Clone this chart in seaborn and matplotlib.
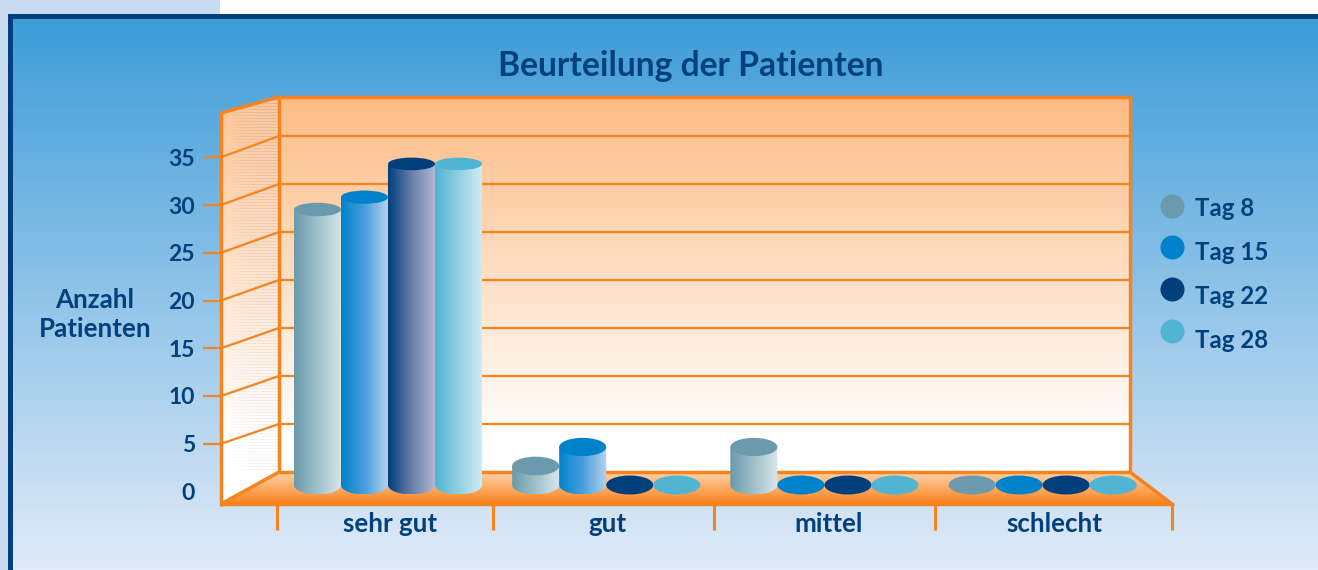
#!/usr/bin/env python3
import matplotlib
matplotlib.use('Agg')
import matplotlib.pyplot as plt
import numpy as np
import pandas as pd
import seaborn as sns
from matplotlib.colors import LinearSegmentedColormap
from matplotlib.patches import Ellipse, Polygon, Rectangle
from matplotlib.path import Path

ratings = ['sehr gut', 'gut', 'mittel', 'schlecht']
tags = ['Tag 8', 'Tag 15', 'Tag 22', 'Tag 28']
tag_8 = [29, 2, 4, 0]
tag_15 = [30.3, 4, 0, 0]
tag_22 = [33.8, 0, 0, 0]
tag_28 = [33.8, 0, 0, 0]
y_ticks = [0, 5, 10, 15, 20, 25, 30, 35]

top_colors = ['#6a9aab', '#0082cb', '#003f7c', '#50b4d3']
side_colors = [
    ['#6a9aab', '#d8e7ea'],
    ['#0082cb', '#4a9fdd', '#b8d2ef'],
    ['#003f7c', '#6a7fa8', '#b2bad5'],
    ['#50b4d3', '#d2ecf1'],
]

NAVY = '#00407c'
ORANGE = '#f7831f'
FONT = 'Lato'

sns.set_theme(style='white', font=FONT)

df = pd.DataFrame({
    'rating': ratings * 4,
    'tag': np.repeat(tags, 4),
    'patients': tag_8 + tag_15 + tag_22 + tag_28,
})

fig = plt.figure(figsize=(13.18, 5.70), dpi=100)
bg = fig.add_axes([0, 0, 1, 1])
bg.axis('off')


def vgrad(x0, x1, y0, y1, c0, c1, clip=None):
    cmap = LinearSegmentedColormap.from_list('g', [c0, c1])
    im = bg.imshow(np.linspace(0, 1, 256)[:, None], cmap=cmap, aspect='auto',
                   extent=(x0, x1, y1, y0), interpolation='bilinear', zorder=1)
    if clip is not None:
        im.set_clip_path(Polygon(clip, transform=bg.transData))
    return im


# page and panel
bg.add_patch(Rectangle((0, 0), 1318, 570, color='white', lw=0, zorder=1))
bg.add_patch(Rectangle((0, 0), 220, 14, color='#c8dbf0', lw=0, zorder=1))
bg.add_patch(Rectangle((0, 0), 8, 570, color='#c8dbf0', lw=0, zorder=1))
bg.add_patch(Rectangle((8, 14), 1310, 556, color=NAVY, lw=0, zorder=1))
vgrad(13, 1318, 19, 570, '#3d9cd8', '#e2ebf8')

# walls and floor
left_wall = [(221, 113), (279, 97), (279, 472), (221, 504)]
floor = [(221, 504), (279, 472), (1130, 472), (1172, 504)]
vgrad(279, 1130, 97, 438, '#fdbc85', '#ffffff')
bg.add_patch(Rectangle((279, 438), 851, 34, color='white', lw=0, zorder=1))
vgrad(221, 279, 97, 438, '#fdc596', '#ffffff', clip=left_wall)
bg.add_patch(Polygon([(221, 438), (279, 438), (279, 472), (221, 504)], color='white', lw=0, zorder=1))
vgrad(221, 1172, 472, 504, '#fdd3aa', '#f9821c', clip=floor)

# fine stripes on the left wall
rows = np.arange(97, 470, 3)
strength = np.array([0.0, 0.2, 0.32, 0.32])[:, None].T
stripe_cmap = LinearSegmentedColormap.from_list('s', [(0.6, 0.6, 0.65, 0), (0.6, 0.6, 0.65, 1)])
for r in rows:
    im = bg.imshow(strength, cmap=stripe_cmap, vmin=0, vmax=1 + (r - 97) / 160,
                   aspect='auto', extent=(221, 279, r + 1, r),
                   interpolation='bilinear', zorder=1)
    im.set_clip_path(Polygon(left_wall, transform=bg.transData))

# grid lines on wall and tick stubs
line = dict(color=ORANGE, solid_capstyle='butt', zorder=2)
for v in y_ticks[1:]:
    front = 491.5 - 9.55 * v
    back = 472 - 9.6 * v
    bg.plot([279, 1130], [back, back], lw=1.6, **line)
    bg.plot([221, 279], [front, back], lw=1.6, **line)
    bg.plot([203, 221], [front, front], lw=1.6, **line)
for v in y_ticks:
    bg.text(195, 493.5 - 9.55 * v, str(v), ha='right', va='center',
            color=NAVY, fontsize=16.5, fontweight='bold')

for x0, y0, x1, y1 in [(279, 97, 1130, 97), (221, 113, 279, 97), (279, 95, 279, 472),
                       (1130, 95, 1130, 472), (221, 111, 221, 506), (221, 504, 1174, 504),
                       (221, 504, 279, 472), (279, 472, 1130, 472), (1130, 472, 1172, 504)]:
    bg.plot([x0, x1], [y0, y1], lw=2.5, **line)
for x in [277, 493, 714, 935, 1172]:
    bg.plot([x, x], [504, 530], lw=2.2, **line)

# bars
ax = fig.add_axes([221 / 1318, (570 - 504) / 570, 951 / 1318, 407 / 570])
ax.patch.set_alpha(0)
sns.barplot(data=df, x='rating', y='patients', hue='tag', order=ratings, hue_order=tags,
            palette=top_colors, width=0.862, gap=0, legend=False, ax=ax)
PX_PER_UNIT = 9.5


def ellipse_units(v):
    return (19 - 0.19 * v) / PX_PER_UNIT


ax.set_autoscale_on(False)
for c, (container, colors) in enumerate(zip(ax.containers, side_colors)):
    cmap = LinearSegmentedColormap.from_list('side', colors)
    for bar in container:
        bar.set_visible(False)
        x0, w, v = bar.get_x(), bar.get_width(), bar.get_height()
        xc = x0 + w / 2
        t = np.linspace(np.pi, 2 * np.pi, 60)
        bottom = 19 / PX_PER_UNIT / 2
        arc = np.column_stack([xc + w / 2 * np.cos(t), bottom * np.sin(t)])
        body = np.vstack([[(x0, v)], arc, [(x0 + w, v)], [(x0, v)]])
        if v > 0:
            im = ax.imshow(np.linspace(0, 1, 128)[None, :], cmap=cmap, aspect='auto',
                           extent=(x0, x0 + w, -bottom, v), zorder=3 + c)
            im.set_clip_path(Path(body), ax.transData)
        ax.add_patch(Ellipse((xc, v), w, ellipse_units(v), color=top_colors[c],
                             lw=0, zorder=3 + c))

ax.set_xlim((221 - 388) / 218.2, (1172 - 388) / 218.2)
ax.set_ylim((485 - 504) / PX_PER_UNIT, (485 - 97) / PX_PER_UNIT)
ax.axis('off')

# texts and legend
bg.text(690.5, 66, 'Beurteilung der Patienten', ha='center', va='center',
        color=NAVY, fontsize=24.2, fontweight='bold')
bg.text(95, 300, 'Anzahl', ha='center', va='center', color=NAVY, fontsize=18.6, fontweight='bold')
bg.text(95, 329, 'Patienten', ha='center', va='center', color=NAVY, fontsize=18.6, fontweight='bold')
for name, x in zip(ratings, [390, 607, 829, 1054]):
    bg.text(x, 524, name, ha='center', va='center', color=NAVY, fontsize=18.6, fontweight='bold')

legend_y = [206, 247, 289, 331]
text_y = [208, 253, 297, 341]
for name, color, y, ty in zip(tags, top_colors, legend_y, text_y):
    bg.scatter([1172], [y], s=300, color=color, lw=0, zorder=5)
    bg.text(1195, ty, name, ha='left', va='center', color=NAVY, fontsize=17.3, fontweight='bold')

bg.set_xlim(0, 1318)
bg.set_ylim(570, 0)

fig.savefig('out.png', dpi=100)
